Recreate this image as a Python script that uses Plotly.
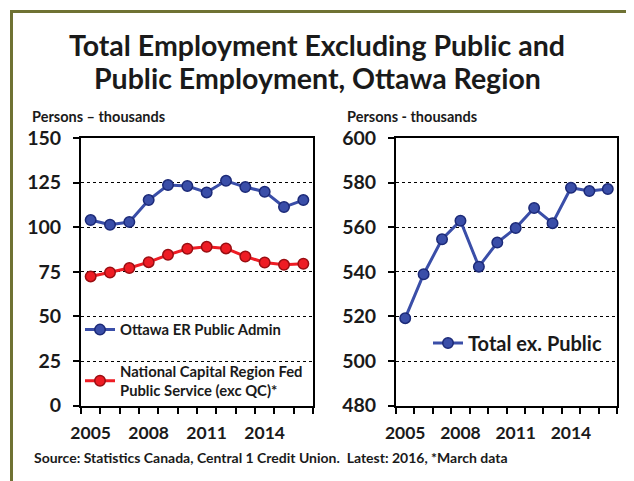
import plotly.graph_objects as go

years = [2005, 2006, 2007, 2008, 2009, 2010, 2011, 2012, 2013, 2014, 2015, 2016]
ottawa_public_admin = [104.0, 101.4, 102.9, 115.2, 123.6, 123.1, 119.5, 126.0, 122.5, 119.9, 111.3, 115.2]
ncr_fed_public = [72.4, 74.6, 77.1, 80.4, 84.5, 87.9, 89.0, 88.1, 83.6, 80.2, 78.9, 79.5]
total_ex_public = [519.2, 538.9, 554.6, 562.9, 542.3, 553.1, 559.6, 568.6, 561.8, 577.7, 576.2, 577.1]
year_labels = [2005, 2008, 2011, 2014]
left_ticks = [0, 25, 50, 75, 100, 125, 150]
right_ticks = [480, 500, 520, 540, 560, 580, 600]
title_lines = ["Total Employment Excluding Public and", "Public Employment, Ottawa Region"]

OFF = 8  # default page body margin
W, H = 634 - OFF, 481 - OFF
FONT = "Lato"
TXT = "#1a1a1a"
BLUE = "#3a4ea8"
BLUE_EDGE = "#1c2a78"
RED = "#ee1c24"
RED_EDGE = "#9a0e12"

def px(x):
    return (x - OFF) / W

def py(y):
    return 1 - (y - OFF) / H

fig = go.Figure()
fig.add_trace(go.Scatter(
    x=years, y=ottawa_public_admin, mode="lines+markers", name="Ottawa ER Public Admin",
    line=dict(color=BLUE, width=3), marker=dict(size=10.5, color=BLUE, line=dict(color=BLUE_EDGE, width=1.5)),
    xaxis="x", yaxis="y", legend="legend"))
fig.add_trace(go.Scatter(
    x=years, y=ncr_fed_public, mode="lines+markers",
    name="National Capital Region Fed<br>Public Service (exc QC)*",
    line=dict(color=RED, width=3), marker=dict(size=10.5, color=RED, line=dict(color=RED_EDGE, width=1.5)),
    xaxis="x", yaxis="y", legend="legend2"))
fig.add_trace(go.Scatter(
    x=years, y=total_ex_public, mode="lines+markers", name="Total ex. Public",
    line=dict(color=BLUE, width=3), marker=dict(size=10.5, color=BLUE, line=dict(color=BLUE_EDGE, width=1.5)),
    xaxis="x2", yaxis="y2", legend="legend3"))

minor_x = [y - 0.5 for y in years] + [years[-1] + 0.5]

def xax(domain, anchor):
    return dict(
        domain=domain, anchor=anchor, range=[years[0] - 0.5, years[-1] + 0.5],
        tickvals=year_labels, ticktext=[str(v) for v in year_labels],
        ticks="outside", ticklen=0, tickcolor="black",
        minor=dict(tickvals=minor_x, ticks="outside", ticklen=6, tickcolor="black", tickwidth=1.5, showgrid=False),
        showline=True, linecolor="black", linewidth=2, mirror=True, showgrid=False, zeroline=False,
        tickfont=dict(family=FONT, size=17.5, color=TXT, weight="bold"),
        ticklabelstandoff=10, automargin=False, fixedrange=True)

def yax(domain, anchor, ticks):
    return dict(
        domain=domain, anchor=anchor, range=[ticks[0], ticks[-1]], tickvals=ticks,
        ticks="outside", ticklen=6, tickwidth=1.5, tickcolor="black",
        showline=True, linecolor="black", linewidth=2, mirror=True,
        showgrid=True, gridcolor="black", griddash="dot", gridwidth=1, zeroline=False,
        tickfont=dict(family=FONT, size=19.5, color=TXT, weight="bold"),
        ticklabelstandoff=8, automargin=False, fixedrange=True)

ydom = [py(405.6), py(138)]
fig.update_layout(
    width=W, height=H, margin=dict(l=0, r=0, t=0, b=0),
    paper_bgcolor="white", plot_bgcolor="white",
    xaxis=xax([px(81), px(313)], "y"),
    yaxis=yax(ydom, "x", left_ticks),
    xaxis2=xax([px(396), px(617)], "y2"),
    yaxis2=yax(ydom, "x2", right_ticks),
    legend=dict(x=px(80), y=py(330), xanchor="left", yanchor="middle", bgcolor="rgba(0,0,0,0)",
                font=dict(family=FONT, size=14.8, color=TXT, weight="bold")),
    legend2=dict(x=px(80), y=py(381), xanchor="left", yanchor="middle", bgcolor="rgba(0,0,0,0)",
                 font=dict(family=FONT, size=14.8, color=TXT, weight="bold")),
    legend3=dict(x=px(428), y=py(343), xanchor="left", yanchor="middle", bgcolor="rgba(0,0,0,0)",
                 font=dict(family=FONT, size=20, color=TXT, weight="bold")),
    showlegend=True,
)

annots = [
    dict(text=title_lines[0], x=px(317), y=py(45), xanchor="center", yanchor="middle",
         font=dict(family=FONT, size=28.5, color=TXT, weight="bold")),
    dict(text=title_lines[1], x=px(317), y=py(78), xanchor="center", yanchor="middle",
         font=dict(family=FONT, size=28.5, color=TXT, weight="bold")),
    dict(text="Persons – thousands", x=px(30), y=py(117), xanchor="left", yanchor="middle",
         font=dict(family=FONT, size=14.5, color=TXT, weight="bold")),
    dict(text="Persons - thousands", x=px(345), y=py(117), xanchor="left", yanchor="middle",
         font=dict(family=FONT, size=14.5, color=TXT, weight="bold")),
    dict(text="Source: Statistics Canada, Central 1 Credit Union.  Latest: 2016, *March data",
         x=px(32), y=py(457), xanchor="left", yanchor="middle",
         font=dict(family=FONT, size=14, color=TXT, weight="bold")),
]
for a in annots:
    fig.add_annotation(xref="paper", yref="paper", showarrow=False, **a)

fig.add_shape(type="rect", xref="paper", yref="paper", x0=px(11.5), y0=py(520), x1=px(660), y1=py(11.5),
              line=dict(color="#6f7233", width=3), fillcolor="rgba(0,0,0,0)", layer="above")

fig.write_html("out.html")
